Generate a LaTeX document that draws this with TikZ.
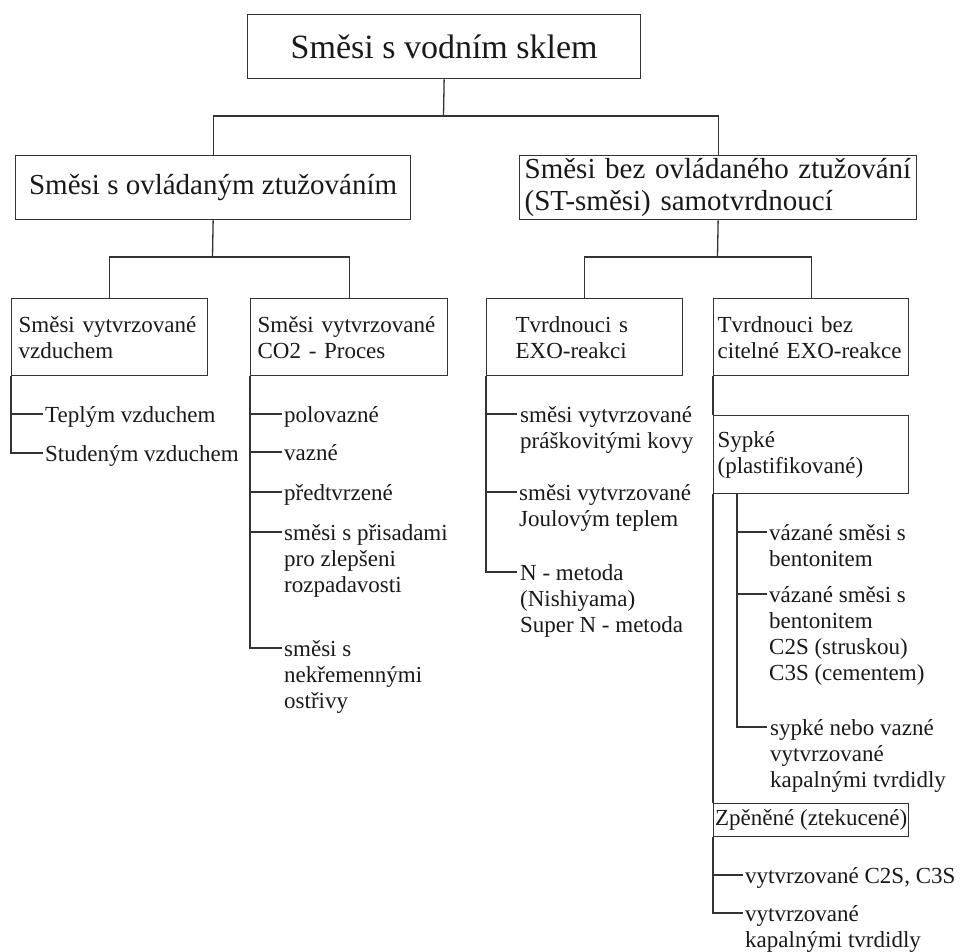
\documentclass[tikz,border=0pt]{standalone}
\usepackage{fontspec}
\setmainfont{Liberation Serif}
\usetikzlibrary{calc}
\begin{document}
\begin{tikzpicture}[x=1pt,y=-1pt,
  every node/.style={font=\fontsize{23}{26}\selectfont, text=black!90},
  box/.style={draw=black!80, line width=1.3pt, inner ysep=0pt, anchor=north west, align=left},
  conn/.style={draw=black!80, line width=1.3pt},
  item/.style={anchor=base west, align=left, inner sep=0pt},
]
\useasboundingbox (0,0) rectangle (961,952);

% boxes
\node[box, align=center, minimum width=393pt, minimum height=64pt, font=\fontsize{34}{38}\selectfont] (title) at (247,14) {Směsi s vodním sklem};
\node[box, align=center, minimum width=395pt, minimum height=64pt, font=\fontsize{29}{32}\selectfont] (L1) at (15,155) {Směsi s ovládaným ztužováním};
\node[box, minimum height=64pt, inner xsep=5pt, text width=387pt, font=\fontsize{29}{32}\selectfont] (R1) at (519,155) {Směsi bez ovládaného ztužování\\(ST-směsi) samotvrdnoucí};

\node[box, minimum height=77pt, inner xsep=7pt, text width=182pt] (A) at (11,298) {Směsi vytvrzované\\vzduchem};
\node[box, minimum height=77pt, inner xsep=7pt, text width=183pt] (B) at (250,298) {Směsi vytvrzované\\CO2 - Proces};
\node[box, minimum height=77pt, inner xsep=29pt, text width=138pt] (C) at (486,298) {Tvrdnouci s\\EXO-reakci};
\node[box, minimum height=77pt, inner xsep=4pt, text width=187pt] (D) at (713,298) {Tvrdnouci bez\\citelné EXO-reakce};
\node[box, minimum height=78pt, inner xsep=4pt, text width=187pt] (S) at (713,415) {Sypké\\(plastifikované)};
\node[box, align=center, minimum width=195pt, minimum height=33pt, inner xsep=1.5pt] (Z) at (713,803) {Zpěněné (ztekucené)};

% branch points
\coordinate (j0) at (443.5,116);
\coordinate (jL) at (212.5,257);
\coordinate (jR) at (717.5,257);
\coordinate (a1) at (43,414);
\coordinate (a2) at (43,453);
\coordinate (b1) at (282,414);
\coordinate (b2) at (282,452);
\coordinate (b3) at (282,492);
\coordinate (b4) at (282,532);
\coordinate (b5) at (282,648);
\coordinate (c1) at (517,414);
\coordinate (c2) at (517,492);
\coordinate (c3) at (517,572);
\coordinate (si) at (737,493);
\coordinate (s1) at (767,532);
\coordinate (s2) at (767,594);
\coordinate (s3) at (767,727);
\coordinate (z1) at (743,875);
\coordinate (z2) at (743,913);

% item texts (base = baseline of the last line)
\node[item] (ta1) at ($(a1)+(2,8.5)$) {Teplým vzduchem};
\node[item] (ta2) at ($(a2)+(2,8.5)$) {Studeným vzduchem};
\node[item] (tb1) at ($(b1)+(2,8.5)$) {polovazné};
\node[item] (tb2) at ($(b2)+(2,8.5)$) {vazné};
\node[item] (tb3) at ($(b3)+(2,8.5)$) {předtvrzené};
\node[item] (tb4) at ($(b4)+(2,60.5)$) {směsi s přisadami\\pro zlepšeni\\rozpadavosti};
\node[item] (tb5) at ($(b5)+(2,60.5)$) {směsi s\\nekřemennými\\ostřivy};
\node[item] (tc1) at ($(c1)+(3,34.5)$) {směsi vytvrzované\\práškovitými kovy};
\node[item] (tc2) at ($(c2)+(2,34.5)$) {směsi vytvrzované\\Joulovým teplem};
\node[item] (tc3) at ($(c3)+(3,60.5)$) {N - metoda\\(Nishiyama)\\Super N - metoda};
\node[item] (ts1) at ($(s1)+(2,34.5)$) {vázané směsi s\\bentonitem};
\node[item] (ts2) at ($(s2)+(2,86.5)$) {vázané směsi s\\bentonitem\\C2S (struskou)\\C3S (cementem)};
\node[item] (ts3) at ($(s3)+(3,60.5)$) {sypké nebo vazné\\vytvrzované\\kapalnými tvrdidly};
\node[item] (tz1) at ($(z1)+(2,8.5)$) {vytvrzované C2S, C3S};
\node[item] (tz2) at ($(z2)+(2,34.5)$) {vytvrzované\\kapalnými tvrdidly};

% connectors
\draw[conn] (title.south) -- (j0);
\draw[conn] (L1.north) |- (j0) -| (R1.north);
\draw[conn] (L1.south) -- (jL);
\draw[conn] (A.north) |- (jL) -| (B.north);
\draw[conn] (R1.south) -- (jR);
\draw[conn] (C.north) |- (jR) -| (D.north);

\draw[conn] (A.south west) |- (a1);
\draw[conn] (A.south west) |- (a2);
\foreach \p in {b1,b2,b3,b4,b5} \draw[conn] (B.south west) |- (\p);
\foreach \p in {c1,c2,c3} \draw[conn] (C.south west) |- (\p);
\draw[conn] (D.south west) -- (S.north west);
\draw[conn] (S.south west) -- (Z.north west);
\foreach \p in {z1,z2} \draw[conn] (Z.south west) |- (\p);
\foreach \p in {s1,s2,s3} \draw[conn] (si) |- (\p);
\end{tikzpicture}
\end{document}
